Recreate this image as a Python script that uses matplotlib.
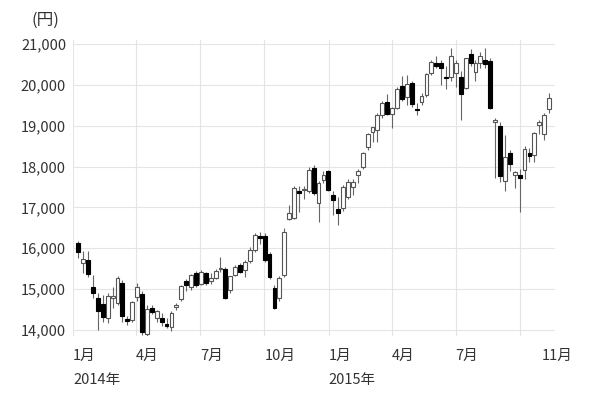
import numpy as np
import pandas as pd
import matplotlib
matplotlib.use("Agg")
import matplotlib.pyplot as plt
import matplotlib.dates as mdates

plt.rcParams['font.family'] = ['Noto Sans CJK JP', 'DejaVu Sans']

# weekly candles, Jan 2014 - Nov 2015 (yen)
weeks = pd.date_range('2014-01-06', periods=97, freq='W-MON')
opens = [16130, 15640, 15720, 15060, 14780, 14640, 14300, 14780, 14660, 15150,
         14260, 14250, 14800, 14880, 13910, 14540, 14300, 14300, 14150, 14070,
         14560, 14760, 15200, 15040, 15390, 15130, 15400, 15210, 15280, 15500,
         15480, 14980, 15350, 15590, 15460, 15680, 15960, 16300, 16300, 15860,
         15030, 14780, 15350, 16720, 16750, 17400, 17420, 17400, 17970, 17110,
         17670, 17890,
         17300, 16960, 16990, 17260, 17500, 17800, 17990, 18480, 18850, 18900,
         19250, 19580, 19290, 19430, 19970, 19700, 20050, 19400, 19580, 19750,
         20300, 20540, 20540, 20200, 20190, 20280, 20190, 19920, 20760, 20320,
         20530, 20600, 20580, 19090, 19000, 17650, 18330, 17790, 17800, 17920,
         18330, 18280, 19020, 18800, 19410]
highs = [16170, 15930, 15930, 15350, 14900, 14850, 14900, 15060, 15310, 15230,
         14330, 14720, 15160, 14950, 14600, 14620, 14500, 14420, 14300, 14460,
         14660, 15100, 15250, 15380, 15440, 15470, 15420, 15400, 15480, 15780,
         15530, 15330, 15590, 15640, 15720, 16020, 16370, 16400, 16370, 15900,
         15100, 15320, 16500, 17060, 17520, 17520, 17520, 17990, 18030, 17650,
         17900, 17920,
         17400, 17250, 17550, 17700, 17700, 17950, 18350, 18820, 18980, 19300,
         19600, 19780, 19450, 19950, 20220, 20250, 20100, 19550, 19800, 20300,
         20600, 20700, 20600, 20450, 20900, 20600, 20350, 20660, 20880, 20600,
         20800, 20900, 20650, 19180, 19100, 18770, 18400, 17900, 17950, 18500,
         18450, 18850, 19140, 19300, 19800]
lows = [15760, 15400, 15300, 14780, 14010, 14200, 14170, 14540, 14610, 14200,
        14130, 14200, 14700, 13880, 13850, 14400, 14200, 14100, 14050, 13970,
        14500, 14720, 14950, 14980, 15050, 15100, 15100, 15120, 15250, 15430,
        14750, 14900, 15330, 15400, 15300, 15650, 15900, 16100, 15660, 15250,
        14520, 14700, 15300, 16700, 16720, 16890, 17200, 17360, 17300, 16640,
        17600, 17400,
        16810, 16570, 16900, 17200, 17300, 17600, 17950, 18400, 18600, 18600,
        19200, 19250, 18950, 19400, 19600, 19500, 19460, 19250, 19500, 19700,
        20250, 20400, 20000, 19900, 20100, 19950, 19140, 19900, 20450, 20100,
        20400, 20400, 19400, 17720, 17630, 17400, 17900, 17480, 16890, 17700,
        18100, 18100, 18800, 18650, 19300]
closes = [15910, 15740, 15380, 14910, 14460, 14310, 14840, 14840, 15270, 14330,
          14220, 14690, 15060, 13960, 14520, 14430, 14460, 14200, 14100, 14420,
          14620, 15070, 15090, 15350, 15090, 15430, 15160, 15270, 15450, 15520,
          14780, 15320, 15540, 15420, 15670, 15950, 16320, 16240, 15720, 15300,
          14540, 15270, 16400, 16870, 17480, 17360, 17460, 17920, 17360, 17600,
          17800, 17420,
          17190, 16860, 17500, 17630, 17630, 17890, 18330, 18800, 18970, 19250,
          19560, 19290, 19430, 19910, 19650, 20020, 19520, 19380, 19730, 20260,
          20560, 20460, 20410, 20170, 20710, 20530, 19780, 20650, 20540, 20540,
          20700, 20520, 19430, 19140, 17770, 18240, 18060, 17870, 17720, 18430,
          18260, 18820, 19090, 19260, 19680]

yticks = [14000, 15000, 16000, 17000, 18000, 19000, 20000, 21000]
grid_dates = ['2014-01-01', '2014-04-01', '2014-07-01', '2014-10-01',
              '2015-01-01', '2015-04-01', '2015-07-01', '2015-10-01']
month_labels = ['1月', '4月', '7月', '10月', '1月', '4月', '7月', '']

o = np.array(opens)
h = np.array(highs)
l = np.array(lows)
c = np.array(closes)
x = mdates.date2num(weeks) + 2.5
up = c >= o
bottom = np.minimum(o, c)
height = np.maximum(np.abs(c - o), 25)

fig = plt.figure(figsize=(6, 3.93), dpi=100)
ax = fig.add_axes([0.1217, 0.1448, 0.8033, 0.7537])

ax.vlines(x, l, h, color='#666666', lw=0.8, zorder=2)
ax.bar(x[up], height[up], bottom=bottom[up], width=5.5, color='white',
       edgecolor='#555555', lw=0.8, zorder=3)
ax.bar(x[~up], height[~up], bottom=bottom[~up], width=5.5, color='black',
       edgecolor='black', lw=0.8, zorder=3)

ax.set_ylim(13850, 21100)
ax.set_xlim(mdates.datestr2num('2014-01-01'), mdates.datestr2num('2015-11-20'))

ax.set_yticks(yticks)
ax.set_yticklabels([f'{v:,}' for v in yticks])
ax.set_xticks(mdates.datestr2num(grid_dates))
ax.set_xticklabels(month_labels)
ax.set_xticks([mdates.datestr2num('2015-11-01')], minor=True)
ax.set_xticklabels(['11月'], minor=True)
for lbl in ax.get_xticklabels(which='both'):
    lbl.set_ha('left')

ax.tick_params(axis='both', which='both', length=0, labelsize=10.5, colors='#333333')
ax.tick_params(axis='x', which='both', pad=9)
ax.tick_params(axis='y', pad=5)
ax.grid(True, which='major', color='#e5e5e5', lw=0.8)
ax.set_axisbelow(True)
for s in ax.spines.values():
    s.set_visible(False)

tr = ax.get_xaxis_transform()
ax.text(mdates.datestr2num('2014-01-01'), -0.148, '2014年', transform=tr,
        ha='left', va='center', fontsize=10.5, color='#333333')
ax.text(mdates.datestr2num('2015-01-01'), -0.148, '2015年', transform=tr,
        ha='left', va='center', fontsize=10.5, color='#333333')
fig.text(0.052, 0.948, '(円)', ha='left', va='center', fontsize=12, color='#333333')

fig.savefig('out.png', dpi=100)
